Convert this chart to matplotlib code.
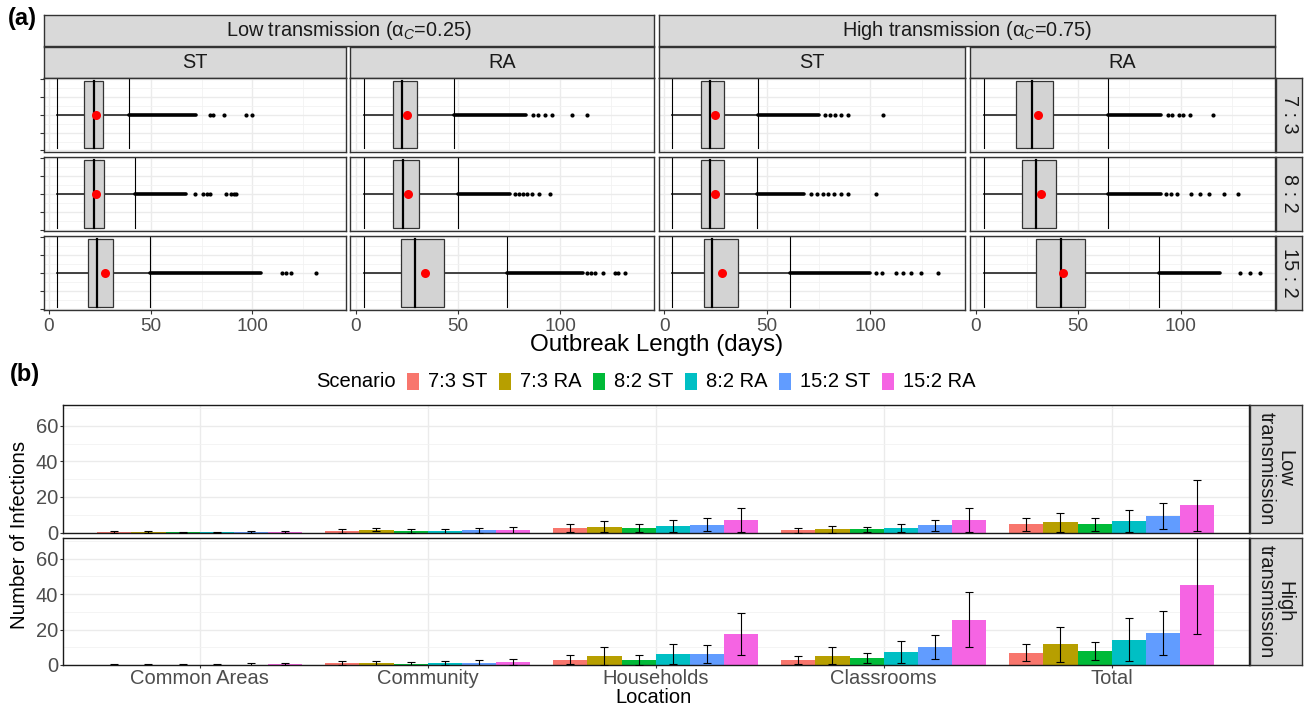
import numpy as np
import matplotlib
matplotlib.use('Agg')
import matplotlib.pyplot as plt
from matplotlib.patches import Rectangle

plt.rcParams['font.family'] = ['Liberation Sans', 'DejaVu Sans']
plt.rcParams['mathtext.fontset'] = 'custom'
plt.rcParams['mathtext.rm'] = 'Liberation Sans'
plt.rcParams['mathtext.it'] = 'Liberation Sans:italic'

W, H = 1304, 708

# ---------------- panel (a) data: outbreak length boxplots ----------------
ratios = ['7 : 3', '8 : 2', '15 : 2']
transmission = [r'Low transmission ($\mathrm{\alpha}_{C}$=0.25)',
                r'High transmission ($\mathrm{\alpha}_{C}$=0.75)']
strategies = ['ST', 'RA', 'ST', 'RA']

# rows = ratios, cols = low ST, low RA, high ST, high RA
whisk_lo = [[4, 4, 4, 4.3], [4, 4, 4, 4.3], [4, 4, 4, 4.3]]
q1 = [[17.3, 18.0, 17.9, 19.6], [17.3, 18.0, 17.9, 22.5], [19.2, 22.1, 19.2, 29.5]]
median = [[22.3, 22.3, 22.2, 27.7], [22.3, 23.0, 22.2, 29.4], [23.5, 29.1, 23.2, 41.7]]
q3 = [[26.4, 29.9, 29.1, 37.6], [27.2, 31.0, 29.1, 39.3], [31.4, 43.2, 35.9, 53.5]]
whisk_hi = [[39.4, 48.1, 45.5, 64.5], [42.3, 49.9, 45.3, 64.5], [49.7, 74.0, 61.0, 89.4]]
mean_len = [[23.1, 25.0, 24.6, 30.5], [23.1, 25.3, 24.6, 31.9], [27.4, 33.7, 28.3, 42.8]]
# dense run of outliers from the upper whisker up to this value
dense_end = [[72.4, 83.5, 75.2, 90.5], [67.2, 75.4, 68.1, 90.5], [104.4, 111.0, 100.0, 119.0]]
# separate outliers beyond the dense run
sparse_out = [
    [[79, 80.6, 86, 97, 99.8], [86.7, 89.3, 92.7, 96, 106, 113],
     [78, 80.5, 83, 86, 89.4, 106], [93.6, 96, 99, 101, 104.7, 116]],
    [[71.8, 75.5, 77.6, 79, 86.8, 89.5, 91, 92], [78, 80, 82, 84, 86, 89.7, 95],
     [71.2, 74, 77, 79.5, 82.3, 86, 89.4, 103], [92.8, 95.3, 98.3, 105, 109.5, 113.6, 121, 128]],
    [[114.3, 116.4, 119.2, 131.2], [113, 115, 117, 121, 127, 128.6, 132],
     [103, 105.6, 112.6, 116, 119.7, 124.8, 132.9], [129, 133.8, 138.5]],
]

# ---------------- panel (b) data: infections by location ----------------
locations = ['Common Areas', 'Community', 'Households', 'Classrooms', 'Total']
scenarios = ['7:3 ST', '7:3 RA', '8:2 ST', '8:2 RA', '15:2 ST', '15:2 RA']
scen_colors = ['#F8766D', '#B79F00', '#00BA38', '#00BFC4', '#619CFF', '#F564E3']
levels = ['Low\ntransmission', 'High\ntransmission']

low_mean = [[0.2, 0.2, 0.15, 0.15, 0.2, 0.25],
            [0.9, 1.5, 0.6, 0.6, 1.3, 1.3],
            [2.5, 3.2, 2.5, 3.5, 4.3, 6.9],
            [1.3, 1.8, 1.8, 2.6, 4.1, 6.9],
            [4.7, 5.8, 4.6, 6.4, 9.2, 15.2]]
low_sd = [[0.4, 0.4, 0.4, 0.4, 0.4, 0.5],
          [1.3, 0.9, 1.1, 1.3, 1.5, 1.9],
          [2.1, 3.1, 2.2, 3.3, 3.6, 6.8],
          [1.5, 2.1, 1.4, 2.3, 3.2, 6.8],
          [3.7, 5.3, 3.6, 6.0, 7.5, 14.1]]
high_mean = [[0.1, 0.1, 0.1, 0.1, 0.2, 0.6],
             [1.1, 1.1, 0.6, 1.1, 1.1, 1.7],
             [3.0, 5.1, 3.0, 6.2, 6.3, 17.4],
             [2.9, 5.3, 3.9, 7.3, 10.0, 25.5],
             [7.0, 11.6, 7.7, 14.4, 18.0, 45.3]]
high_sd = [[0.4, 0.4, 0.4, 0.4, 0.7, 0.7],
           [1.0, 1.4, 1.1, 1.0, 1.5, 1.5],
           [2.6, 4.9, 2.8, 5.7, 5.2, 11.7],
           [2.3, 4.8, 2.6, 6.2, 6.8, 15.5],
           [4.7, 10.1, 5.1, 12.0, 12.5, 27.8]]

fig = plt.figure(figsize=(W / 100, H / 100), dpi=100)


def px_axes(x0, y0, x1, y1):
    return fig.add_axes([x0 / W, 1 - y1 / H, (x1 - x0) / W, (y1 - y0) / H])


def frame(ax, color='#333333', lw=1.0):
    for s in ax.spines.values():
        s.set_color(color)
        s.set_linewidth(lw)


def strip(x0, y0, x1, y1, label, rot=0, size=14.3):
    ax = px_axes(x0, y0, x1, y1)
    ax.set_facecolor('#D9D9D9')
    ax.set_xticks([])
    ax.set_yticks([])
    frame(ax)
    ax.text(0.5, 0.5, label, transform=ax.transAxes, ha='center', va='center',
            rotation=rot, size=size, color='#1A1A1A', linespacing=0.95)
    return ax


def ftext(x, y, s, **kw):
    return fig.text(x / W, 1 - y / H, s, **kw)


# ---------------- (a) ----------------
col_x = [(43.5, 346), (350.5, 654), (658.5, 965), (970, 1275)]
row_y = [(78, 151.5), (156.5, 231), (235.5, 310)]

strip(col_x[0][0], 15, col_x[1][1], 46, transmission[0])
strip(col_x[2][0], 15, col_x[3][1], 46, transmission[1])
for c, (x0, x1) in enumerate(col_x):
    strip(x0, 46.5, x1, 77.5, strategies[c])
for r, (y0, y1) in enumerate(row_y):
    strip(1276, y0, 1302, y1, ratios[r], rot=-90)

for r, (y0, y1) in enumerate(row_y):
    for c, (x0, x1) in enumerate(col_x):
        ax = px_axes(x0, y0, x1, y1)
        ax.set_xlim(-2.7, 146)
        ax.set_ylim(-0.412, 0.412)
        ax.set_xticks([0, 50, 100])
        ax.set_xticks([25, 75, 125], minor=True)
        ax.set_yticks([-0.4, -0.2, 0, 0.2, 0.4])
        ax.set_yticks([-0.3, -0.1, 0.1, 0.3], minor=True)
        ax.grid(which='major', color='#EBEBEB', lw=1.0)
        ax.grid(which='minor', color='#F2F2F2', lw=0.6)
        ax.set_axisbelow(True)
        ax.tick_params(which='minor', length=0)
        ax.tick_params(which='major', length=3, width=0.8, color='#333333',
                       labelsize=13.7, labelcolor='#4D4D4D', pad=2.5)
        ax.set_yticklabels([])
        if c > 0:
            ax.tick_params(axis='y', length=0)
        if r < 2:
            ax.tick_params(axis='x', length=0, labelbottom=False)
        frame(ax)

        lo, a, m, b, hi = whisk_lo[r][c], q1[r][c], median[r][c], q3[r][c], whisk_hi[r][c]
        ax.plot([lo, a], [0, 0], color='#333333', lw=1.3, zorder=2)
        ax.plot([b, hi], [0, 0], color='#333333', lw=1.3, zorder=2)
        for w in (lo, hi):
            ax.plot([w, w], [-0.375, 0.41], color='black', lw=0.8, zorder=2)
        ax.add_patch(Rectangle((a, -0.375), b - a, 0.75, facecolor='#D3D3D3',
                               edgecolor='#333333', lw=0.9, zorder=3))
        ax.plot([m, m], [-0.375, 0.375], color='black', lw=1.6, zorder=4)
        ax.plot([hi, dense_end[r][c]], [0, 0], color='black', lw=2.6,
                solid_capstyle='round', zorder=3)
        pts = sparse_out[r][c]
        ax.plot(pts, np.zeros(len(pts)), 'o', ms=3.0, color='black', mew=0, zorder=3)
        ax.plot([mean_len[r][c]], [0], 'o', ms=6.5, color='red', mew=0, zorder=5)

ftext(8, 18, '(a)', fontweight='bold', size=17, ha='left', va='center')
ftext(657, 345, 'Outbreak Length (days)', size=17.4, ha='center', va='center')

# ---------------- (b) ----------------
ftext(10, 374, '(b)', fontweight='bold', size=17, ha='left', va='center')

panel_y = [(404.5, 532.5), (537.5, 665)]
means = [low_mean, high_mean]
sds = [low_sd, high_sd]
xpos = np.arange(1, len(locations) + 1)
bw = 0.15
for p, (y0, y1) in enumerate(panel_y):
    ax = px_axes(63, y0, 1248.5, y1)
    ax.set_xlim(0.4, len(locations) + 0.6)
    ax.set_ylim(0, 72)
    ax.set_yticks([0, 20, 40, 60])
    ax.set_yticks([10, 30, 50, 70], minor=True)
    ax.set_xticks(xpos)
    ax.grid(which='major', color='#EBEBEB', lw=1.0)
    ax.grid(which='minor', axis='y', color='#F2F2F2', lw=0.6)
    ax.set_axisbelow(True)
    ax.tick_params(which='minor', length=0)
    ax.tick_params(which='major', length=2.5, width=0.8, color='#333333',
                   labelsize=14.5, labelcolor='#4D4D4D', pad=1.0)
    if p == 0:
        ax.tick_params(axis='x', length=0, labelbottom=False)
    else:
        ax.set_xticklabels(locations)
        ax.tick_params(axis='x', pad=0.5)
    frame(ax, '#1A1A1A', 1.0)
    mm = np.array(means[p])
    ss = np.array(sds[p])
    for i, sc in enumerate(scenarios):
        xs = xpos + (i - 2.5) * bw
        ax.bar(xs, mm[:, i], width=bw, color=scen_colors[i], zorder=2)
        ax.errorbar(xs, mm[:, i], yerr=ss[:, i], fmt='none', ecolor='black',
                    elinewidth=0.8, capsize=3, capthick=0.8, zorder=3)
    strip(1249.5, y0, 1302, y1, levels[p], rot=-90, size=14.5)

ftext(20, 535, 'Number of Infections', rotation=90, size=14.7, ha='center', va='center')
ftext(653, 707, 'Location', size=14.5, ha='center', va='bottom')

# legend, laid out left to right in pixel units
renderer = fig.canvas.get_renderer()
ly = 381.5
t = ftext(316, ly, 'Scenario', size=14.5, ha='left', va='center')
x = t.get_window_extent(renderer).x1 + 11
for i, sc in enumerate(scenarios):
    fig.patches.append(Rectangle((x / W, 1 - (ly + 8.8) / H), 12.6 / W, 17.7 / H,
                                 transform=fig.transFigure, facecolor=scen_colors[i],
                                 edgecolor='none'))
    t = ftext(x + 12.6 + 9, ly, sc, size=14.5, ha='left', va='center')
    x = t.get_window_extent(renderer).x1 + 11

fig.savefig('out.png', dpi=100)
